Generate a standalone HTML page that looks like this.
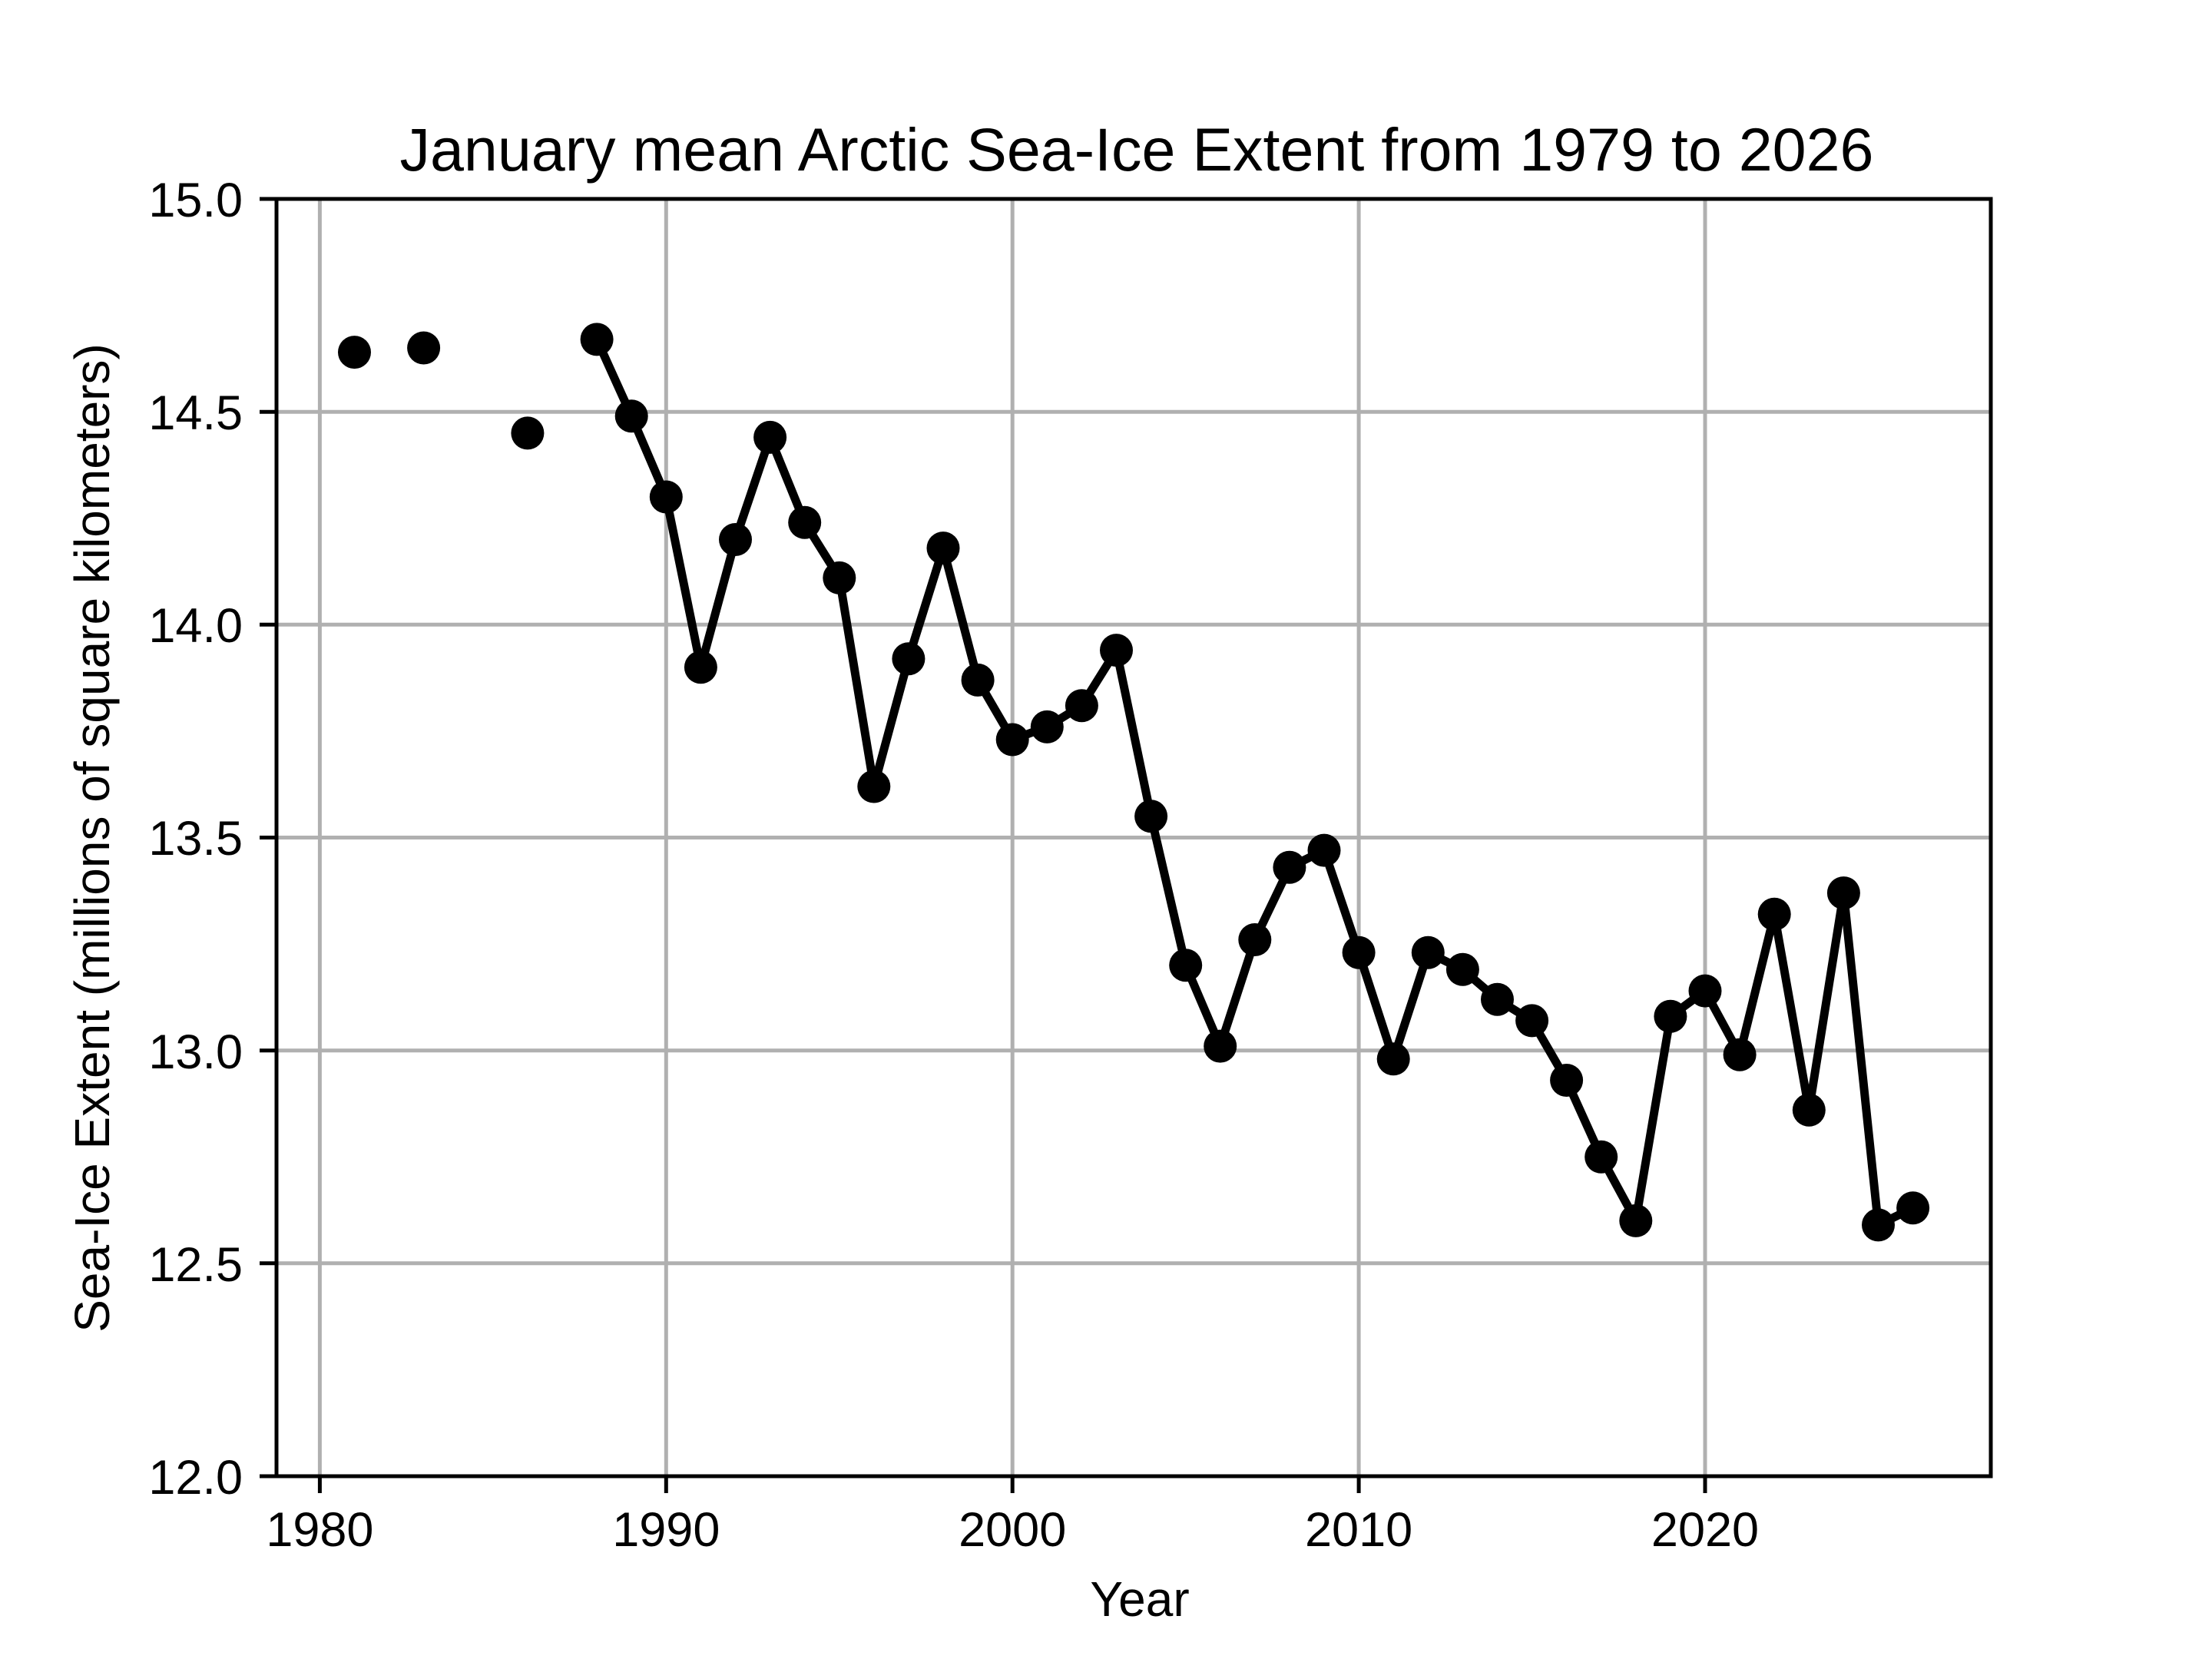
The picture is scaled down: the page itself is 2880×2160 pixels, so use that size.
<!DOCTYPE html>
<html><head><meta charset="utf-8"><style>
html,body{margin:0;padding:0;background:#fff;}
svg{display:block;}
text{font-family:"Liberation Sans","Noto Sans CJK JP",sans-serif;fill:#000;}
</style></head><body>
<svg width="2880" height="2160" viewBox="0 0 2880 2160" xmlns="http://www.w3.org/2000/svg">
<rect width="2880" height="2160" fill="#fff"/>
<g stroke="#b0b0b0" stroke-width="5">
<line x1="416.4" y1="259" x2="416.4" y2="1922"/>
<line x1="867.3" y1="259" x2="867.3" y2="1922"/>
<line x1="1318.2" y1="259" x2="1318.2" y2="1922"/>
<line x1="1769.1" y1="259" x2="1769.1" y2="1922"/>
<line x1="2220" y1="259" x2="2220" y2="1922"/>
<line x1="360" y1="1644.8" x2="2592" y2="1644.8"/>
<line x1="360" y1="1367.7" x2="2592" y2="1367.7"/>
<line x1="360" y1="1090.5" x2="2592" y2="1090.5"/>
<line x1="360" y1="813.3" x2="2592" y2="813.3"/>
<line x1="360" y1="536.2" x2="2592" y2="536.2"/>
</g>
<polyline fill="none" stroke="#000" stroke-width="11" stroke-linejoin="round" points="777.1,441.9 822.2,541.7 867.3,647 912.4,868.8 957.5,702.5 1002.6,569.4 1047.7,680.3 1092.8,752.4 1137.8,1024 1182.9,857.7 1228,713.6 1273.1,885.4 1318.2,963 1363.3,946.4 1408.4,918.7 1453.5,846.6 1498.6,1062.8 1543.7,1256.8 1588.7,1362.1 1633.8,1223.5 1678.9,1129.3 1724,1107.1 1769.1,1240.2 1814.2,1378.8 1859.3,1240.2 1904.4,1262.3 1949.5,1301.2 1994.6,1328.9 2039.6,1406.5 2084.7,1506.3 2129.8,1589.4 2174.9,1323.3 2220,1290.1 2265.1,1373.2 2310.2,1190.3 2355.3,1445.3 2400.4,1162.6 2445.5,1594.9 2490.6,1572.8"/>
<g fill="#000">
<circle cx="461.5" cy="458.6" r="21.5"/><circle cx="551.6" cy="453" r="21.5"/><circle cx="686.9" cy="563.9" r="21.5"/>
<circle cx="777.1" cy="441.9" r="21.5"/><circle cx="822.2" cy="541.7" r="21.5"/><circle cx="867.3" cy="647" r="21.5"/><circle cx="912.4" cy="868.8" r="21.5"/><circle cx="957.5" cy="702.5" r="21.5"/><circle cx="1002.6" cy="569.4" r="21.5"/><circle cx="1047.7" cy="680.3" r="21.5"/><circle cx="1092.8" cy="752.4" r="21.5"/><circle cx="1137.8" cy="1024" r="21.5"/><circle cx="1182.9" cy="857.7" r="21.5"/><circle cx="1228" cy="713.6" r="21.5"/><circle cx="1273.1" cy="885.4" r="21.5"/><circle cx="1318.2" cy="963" r="21.5"/><circle cx="1363.3" cy="946.4" r="21.5"/><circle cx="1408.4" cy="918.7" r="21.5"/><circle cx="1453.5" cy="846.6" r="21.5"/><circle cx="1498.6" cy="1062.8" r="21.5"/><circle cx="1543.7" cy="1256.8" r="21.5"/><circle cx="1588.7" cy="1362.1" r="21.5"/><circle cx="1633.8" cy="1223.5" r="21.5"/><circle cx="1678.9" cy="1129.3" r="21.5"/><circle cx="1724" cy="1107.1" r="21.5"/><circle cx="1769.1" cy="1240.2" r="21.5"/><circle cx="1814.2" cy="1378.8" r="21.5"/><circle cx="1859.3" cy="1240.2" r="21.5"/><circle cx="1904.4" cy="1262.3" r="21.5"/><circle cx="1949.5" cy="1301.2" r="21.5"/><circle cx="1994.6" cy="1328.9" r="21.5"/><circle cx="2039.6" cy="1406.5" r="21.5"/><circle cx="2084.7" cy="1506.3" r="21.5"/><circle cx="2129.8" cy="1589.4" r="21.5"/><circle cx="2174.9" cy="1323.3" r="21.5"/><circle cx="2220" cy="1290.1" r="21.5"/><circle cx="2265.1" cy="1373.2" r="21.5"/><circle cx="2310.2" cy="1190.3" r="21.5"/><circle cx="2355.3" cy="1445.3" r="21.5"/><circle cx="2400.4" cy="1162.6" r="21.5"/><circle cx="2445.5" cy="1594.9" r="21.5"/><circle cx="2490.6" cy="1572.8" r="21.5"/>
</g>
<rect x="360" y="259" width="2232" height="1663" fill="none" stroke="#000" stroke-width="5"/>
<g stroke="#000" stroke-width="5">
<line x1="416.4" y1="1922" x2="416.4" y2="1944"/><line x1="867.3" y1="1922" x2="867.3" y2="1944"/><line x1="1318.2" y1="1922" x2="1318.2" y2="1944"/><line x1="1769.1" y1="1922" x2="1769.1" y2="1944"/><line x1="2220" y1="1922" x2="2220" y2="1944"/>
<line x1="338" y1="1922" x2="360" y2="1922"/><line x1="338" y1="1644.8" x2="360" y2="1644.8"/><line x1="338" y1="1367.7" x2="360" y2="1367.7"/><line x1="338" y1="1090.5" x2="360" y2="1090.5"/><line x1="338" y1="813.3" x2="360" y2="813.3"/><line x1="338" y1="536.2" x2="360" y2="536.2"/><line x1="338" y1="259" x2="360" y2="259"/>
</g>
<g font-size="63" text-anchor="middle">
<text x="416.4" y="2013">1980</text><text x="867.3" y="2013">1990</text><text x="1318.2" y="2013">2000</text><text x="1769.1" y="2013">2010</text><text x="2220" y="2013">2020</text>
</g>
<g font-size="63" text-anchor="end">
<text x="316" y="1945">12.0</text><text x="316" y="1668">12.5</text><text x="316" y="1391">13.0</text><text x="316" y="1113">13.5</text><text x="316" y="836">14.0</text><text x="316" y="559">14.5</text><text x="316" y="282">15.0</text>
</g>
<text x="1484" y="2104" font-size="64" text-anchor="middle">Year</text>
<text transform="translate(142,1091) rotate(-90)" font-size="64" text-anchor="middle">Sea-Ice Extent (millions of square kilometers)</text>
<text x="1480" y="222" font-size="79" text-anchor="middle">January mean Arctic Sea-Ice Extent from 1979 to 2026</text>
</svg>
</body></html>
